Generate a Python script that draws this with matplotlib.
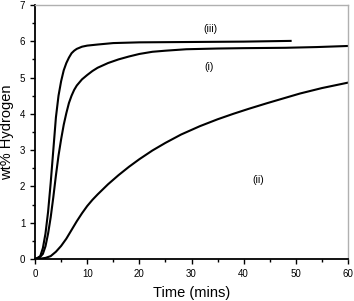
import matplotlib
matplotlib.use("Agg")
import matplotlib.pyplot as plt
from matplotlib.ticker import MultipleLocator

plt.rcParams["font.family"] = ["Liberation Sans", "DejaVu Sans"]

# curve (iii): fastest, stops at ~49 min
t_iii = [0, 0.5, 1, 1.5, 2, 2.5, 3, 3.5, 4, 4.5, 5, 5.5, 6, 6.5, 7, 7.5, 8, 9, 10,
         12, 15, 20, 30, 40, 49]
w_iii = [0.0, 0.03, 0.08, 0.3, 0.7, 1.3, 2.1, 3.0, 3.9, 4.5, 4.9, 5.2, 5.4, 5.55, 5.67,
         5.74, 5.79, 5.85, 5.88, 5.91, 5.95, 5.97, 5.98, 5.99, 6.01]

# curve (i)
t_i = [0, 0.5, 1, 1.5, 2, 2.5, 3, 3.5, 4, 4.5, 5, 5.5, 6, 6.5, 7, 7.5, 8, 9, 10, 11,
       12, 14, 16, 18, 20, 22.5, 25, 29, 35, 40, 48, 54, 60]
w_i = [0.0, 0.03, 0.06, 0.14, 0.35, 0.7, 1.15, 1.7, 2.3, 2.85, 3.3, 3.7, 4.02, 4.3,
       4.5, 4.66, 4.78, 4.95, 5.07, 5.18, 5.27, 5.4, 5.5, 5.58, 5.65, 5.71, 5.74, 5.78,
       5.8, 5.81, 5.82, 5.84, 5.87]

# curve (ii): slowest
t_ii = [0, 1, 2, 3, 4, 5, 6, 7, 8, 9, 10, 11, 12, 14, 16, 18, 20, 22.5, 25, 28,
        31.6, 35, 38, 41, 44.4, 47, 50.8, 55, 60]
w_ii = [0.0, 0.01, 0.03, 0.08, 0.2, 0.36, 0.56, 0.8, 1.04, 1.26, 1.46, 1.63, 1.78, 2.06,
        2.31, 2.54, 2.75, 2.99, 3.2, 3.43, 3.66, 3.85, 4.0, 4.14, 4.29, 4.40, 4.56,
        4.71, 4.86]

fig = plt.figure(figsize=(3.54, 3.01), dpi=100)
ax = fig.add_axes([0.099, 0.1395, 0.884, 0.844])

for t, w in [(t_iii, w_iii), (t_i, w_i), (t_ii, w_ii)]:
    ax.plot(t, w, color="black", linewidth=1.5, solid_joinstyle="round")

ax.text(33.7, 6.33, "(iii)", fontsize=7.5, ha="center", va="center")
ax.text(33.3, 5.3, "(i)", fontsize=7.5, ha="center", va="center")
ax.text(42.7, 2.18, "(ii)", fontsize=7.5, ha="center", va="center")

ax.set_xlim(0, 60)
ax.set_ylim(0, 7)
ax.xaxis.set_major_locator(MultipleLocator(10))
ax.xaxis.set_minor_locator(MultipleLocator(5))
ax.yaxis.set_major_locator(MultipleLocator(1))
ax.yaxis.set_minor_locator(MultipleLocator(0.5))
ax.tick_params(which="both", direction="out", top=False, right=False,
               labelsize=7, colors="black", width=1)
ax.tick_params(which="major", length=3.5)
ax.tick_params(which="minor", length=2)

for s in ["left", "bottom"]:
    ax.spines[s].set_linewidth(1.3)
for s in ["top", "right"]:
    ax.spines[s].set_color("#b0b0b0")
    ax.spines[s].set_linewidth(1.0)

ax.set_xlabel("Time (mins)", fontsize=10.5, labelpad=5)
ax.set_ylabel("wt% Hydrogen", fontsize=10.5, labelpad=4)

fig.savefig("out.png", dpi=100)
